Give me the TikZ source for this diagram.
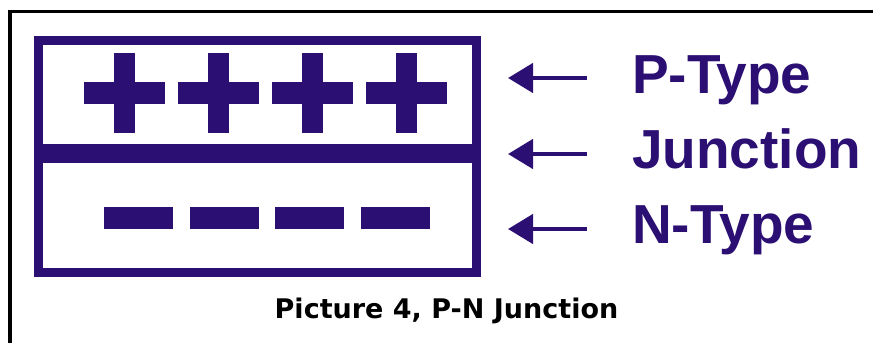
\documentclass[tikz,border=0pt]{standalone}
\usepackage{fontspec}
\setmainfont{Liberation Sans}
\newfontfamily\capfont{DejaVu Sans}
\usetikzlibrary{arrows.meta}
\definecolor{pnpurple}{RGB}{43,15,115}
\tikzset{
  frame/.style={line width=3.4pt, black},
  pnbox/.style={line width=9pt, pnpurple},
  pnarrow/.style={pnpurple, line width=4.5pt, -{Triangle[length=25pt,width=29pt]}},
  pnlabel/.style={anchor=base west, inner sep=0pt, text=pnpurple, font=\fontsize{55}{60}\selectfont\bfseries},
  pncaption/.style={anchor=base, inner sep=0pt, text=black, font=\capfont\fontsize{27}{30}\selectfont\bfseries}
}
\begin{document}
\begin{tikzpicture}[x=1pt,y=-1pt]
\useasboundingbox (0,0) rectangle (873,343);
\fill[white] (0,0) rectangle (873,343);
% outer black frame (top and left only)
\draw[frame] (10,11.7) -- (873,11.7);
\draw[frame] (10,10) -- (10,343);
% purple box
\draw[pnbox] (38.5,40.5) rectangle (476.5,272.5);
\fill[pnpurple] (34,144) rectangle (481,163);
% plus signs
\foreach \cx in {124.5,218.5,312.5,406.5}{
  \fill[pnpurple] (\cx-40.5,82) rectangle (\cx+40.5,104);
  \fill[pnpurple] (\cx-10.5,53) rectangle (\cx+10.5,133);
}
% minus signs
\foreach \mx in {104,189.5,275,360.5}{
  \fill[pnpurple] (\mx,207) rectangle (\mx+69,229);
}
% labels
\node[pnlabel] (ptype) at (632,93) {P-Type};
\node[pnlabel] (junc) at (632,168) {Junction};
\node[pnlabel] (ntype) at (632,243) {N-Type};
% arrows
\coordinate (pa) at (587,78);
\coordinate (pb) at (508,78);
\coordinate (ja) at (587,154);
\coordinate (jb) at (508,154);
\coordinate (na) at (587,229);
\coordinate (nb) at (508,229);
\draw[pnarrow] (pa) -- (pb);
\draw[pnarrow] (ja) -- (jb);
\draw[pnarrow] (na) -- (nb);
% caption
\node[pncaption] (cap) at (446.5,318) {Picture 4, P-N Junction};
\end{tikzpicture}
\end{document}
